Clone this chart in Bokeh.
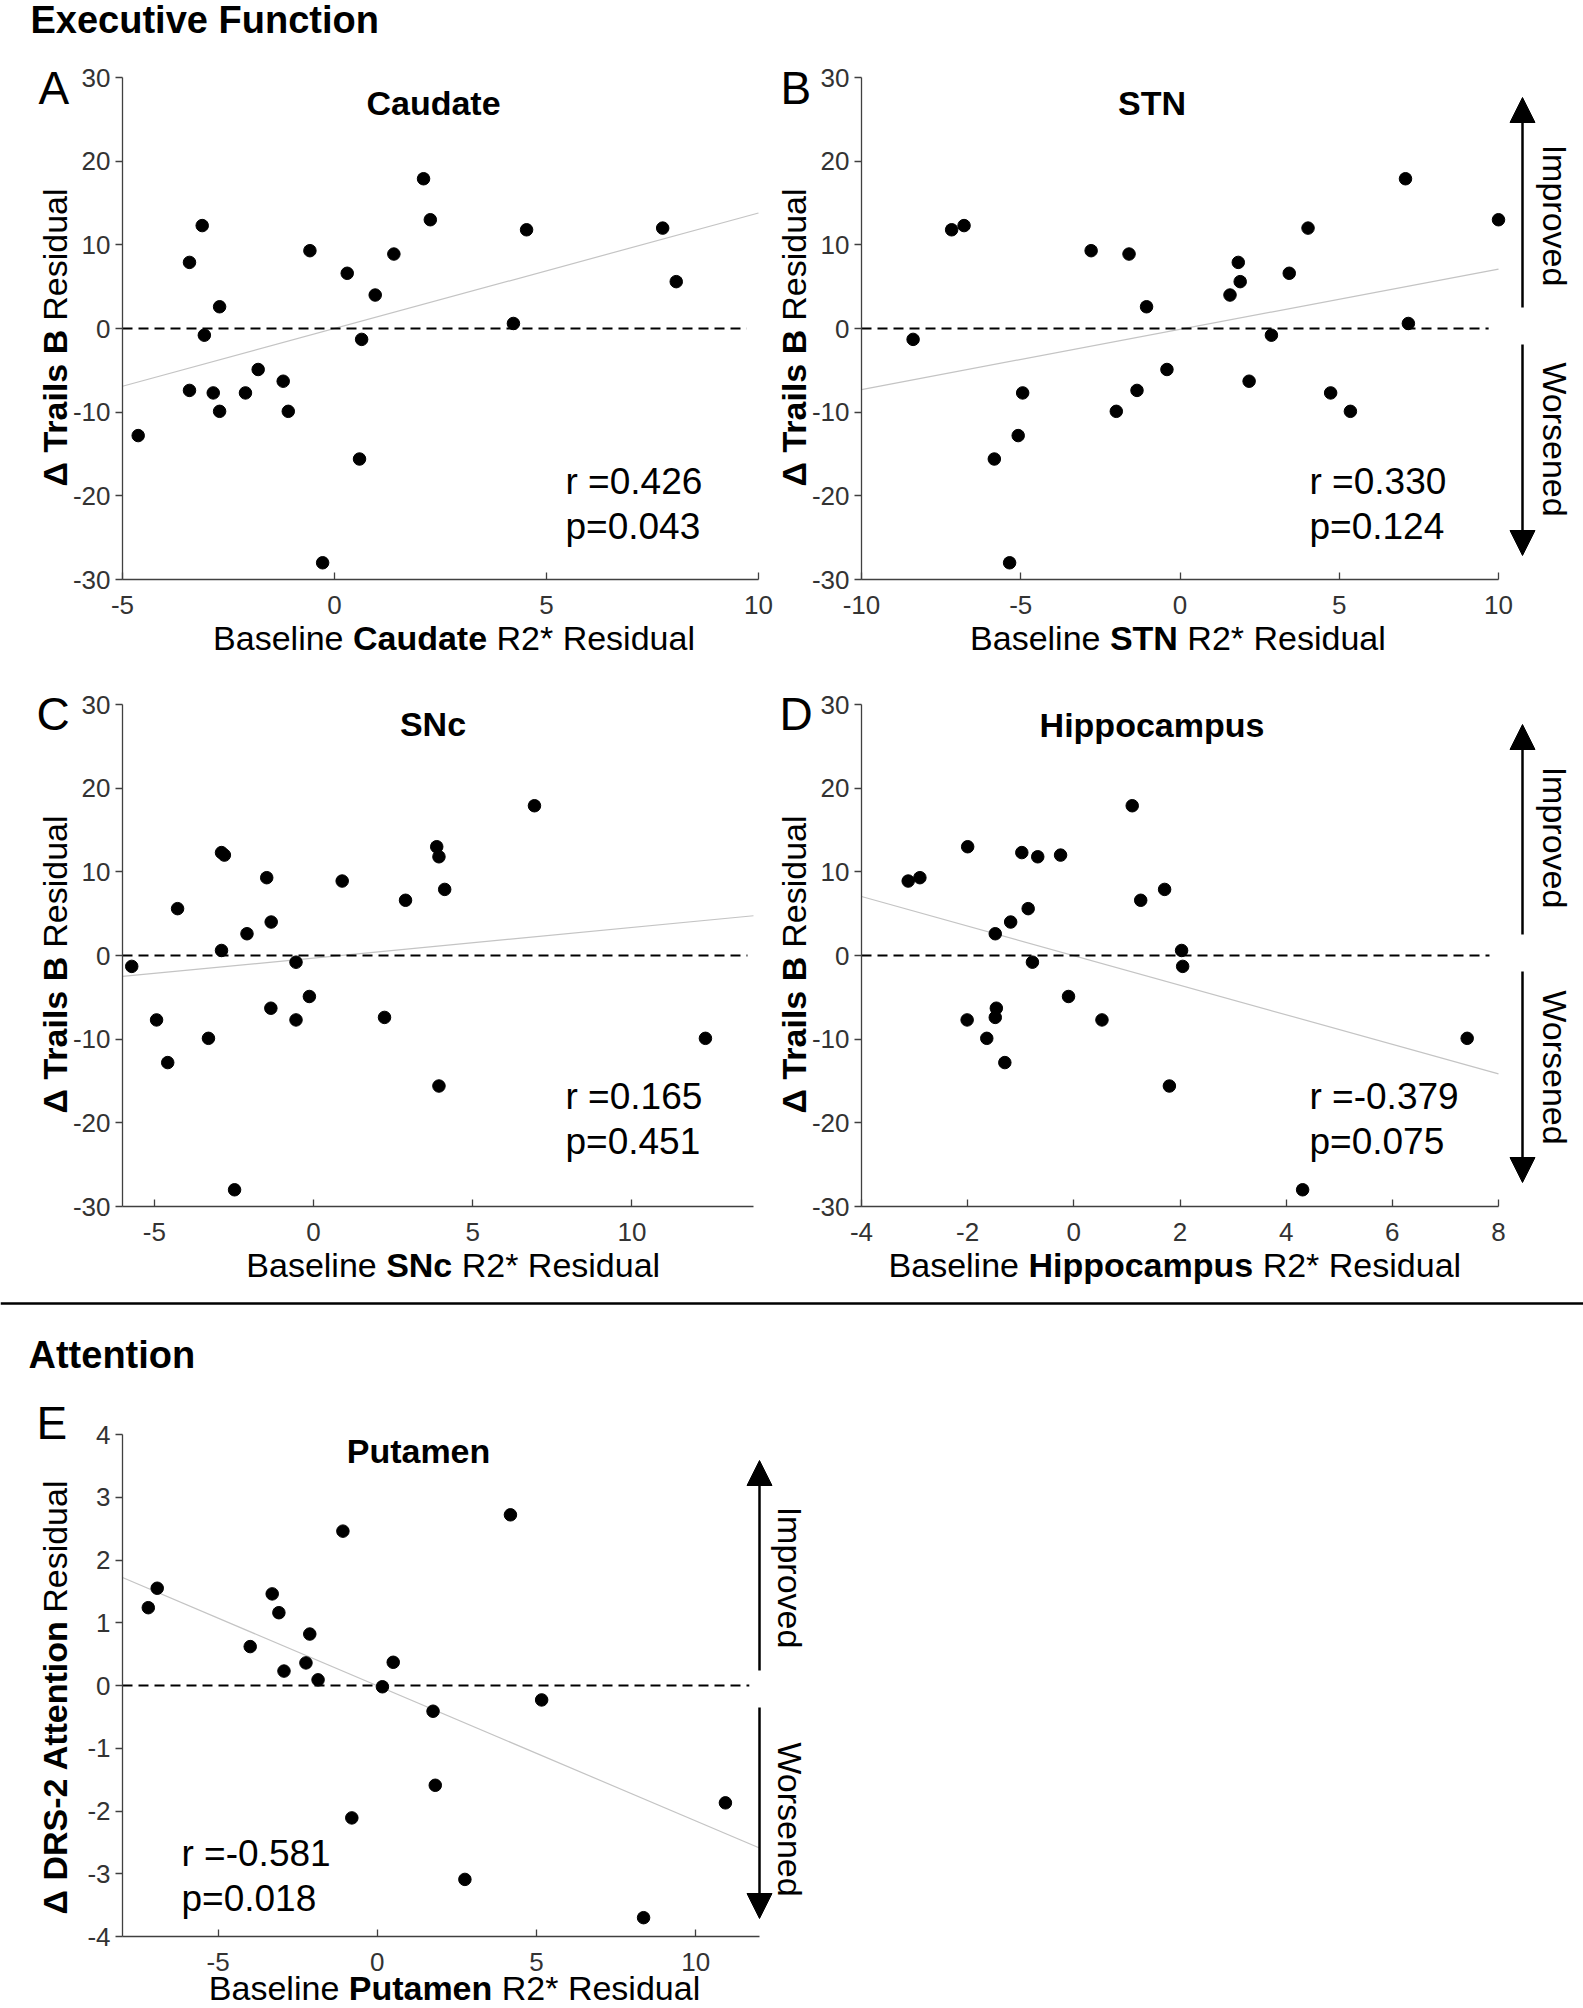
import math
from bokeh.plotting import figure
from bokeh.layouts import column, row
from bokeh.models import Range1d, FixedTicker, Label, Arrow, NormalHead, Span
from bokeh.embed import file_html
from bokeh.resources import INLINE

FONT = "Liberation Sans"

# ---------------- data ----------------
caudate_r2 = [-4.63, -3.42, -3.12, -3.42, -3.07, -2.71, -2.86, -2.71, -1.80, -2.10,
              -1.21, -1.09, -0.58, -0.28, 0.30, 0.64, 0.59, 0.96, 1.40, 2.10,
              2.26, 4.22, 4.53, 7.74, 8.06]
caudate_trails = [-12.8, 7.9, 12.3, -7.4, -0.8, 2.6, -7.7, -9.9, -4.9, -7.7,
                  -6.3, -9.9, 9.3, -28.0, 6.6, -1.3, -15.6, 4.0, 8.9, 17.9,
                  13.0, 0.6, 11.8, 12.0, 5.6]

stn_r2 = [-8.38, -7.17, -6.78, -5.83, -5.35, -5.08, -4.94, -2.79, -2.00, -1.60,
          -1.35, -1.05, -0.41, 1.57, 1.83, 1.89, 2.17, 2.87, 3.43, 4.02,
          4.73, 5.35, 7.08, 7.17, 10.0]
stn_trails = [-1.3, 11.8, 12.3, -15.6, -28.0, -12.8, -7.7, 9.3, -9.9, 8.9,
              -7.4, 2.6, -4.9, 4.0, 7.9, 5.6, -6.3, -0.8, 6.6, 12.0,
              -7.7, -9.9, 17.9, 0.6, 13.0]

snc_r2 = [-5.71, -4.93, -4.58, -4.27, -3.30, -2.89, -2.80, -2.89, -2.48, -2.09,
          -1.47, -1.33, -1.34, -0.55, -0.55, -0.13, 0.90, 2.23, 2.89, 3.87,
          3.94, 4.12, 3.94, 6.94, 12.31]
snc_trails = [-1.3, -7.7, -12.8, 5.6, -9.9, 12.3, 12.0, 0.6, -28.0, 2.6,
              9.3, 4.0, -6.3, -0.8, -7.7, -4.9, 8.9, -7.4, 6.6, 13.0,
              11.8, 7.9, -15.6, 17.9, -9.9]

hippo_r2 = [-3.12, -2.90, -2.00, -2.01, -1.64, -1.48, -1.46, -1.48, -1.30, -1.19,
            -0.98, -0.86, -0.78, -0.68, -0.25, -0.10, 0.53, 1.10, 1.26, 1.71,
            1.80, 2.03, 2.05, 4.31, 7.41]
hippo_trails = [8.9, 9.3, 13.0, -7.7, -9.9, 2.6, -6.3, -7.4, -12.8, 4.0,
                12.3, 5.6, -0.8, 11.8, 12.0, -4.9, -7.7, 17.9, 6.6, 7.9,
                -15.6, 0.6, -1.3, -28.0, -9.9]

putamen_r2 = [-7.19, -6.91, -3.99, -3.30, -3.09, -2.93, -2.24, -2.12, -1.86, -1.08,
              -0.80, 0.16, 0.50, 1.75, 1.82, 2.75, 4.18, 5.16, 8.36, 10.93]
putamen_drs = [1.24, 1.55, 0.62, 1.46, 1.16, 0.23, 0.36, 0.82, 0.09, 2.46,
               -2.11, -0.02, 0.37, -0.41, -1.59, -3.09, 2.72, -0.23, -3.70, -1.87]

# fitted-line end points
caudate_fit_x, caudate_fit_y = [-5.0, 10.0], [-6.9, 13.8]
stn_fit_x, stn_fit_y = [-10.0, 10.0], [-7.3, 7.1]
snc_fit_x, snc_fit_y = [-6.0, 13.82], [-2.5, 4.75]
hippo_fit_x, hippo_fit_y = [-4.0, 8.0], [7.05, -14.15]
putamen_fit_x, putamen_fit_y = [-8.0, 12.0], [1.72, -2.59]

# extent of the dashed zero line
caudate_zero_x = [-5.0, 9.72]
stn_zero_x = [-10.0, 9.69]
snc_zero_x = [-6.0, 13.63]
hippo_zero_x = [-4.0, 7.83]
putamen_zero_x = [-8.0, 11.68]

# axis limits and ticks
caudate_xlim, stn_xlim, snc_xlim, hippo_xlim, putamen_xlim = [-5, 10], [-10, 10], [-6, 13.82], [-4, 8], [-8, 12]
trails_ylim, drs_ylim = [-30, 30], [-4, 4]
caudate_xticks = [-5, 0, 5, 10]
stn_xticks = [-10, -5, 0, 5, 10]
snc_xticks = [-5, 0, 5, 10]
hippo_xticks = [-4, -2, 0, 2, 4, 6, 8]
putamen_xticks = [-5, 0, 5, 10]
trails_yticks = [-30, -20, -10, 0, 10, 20, 30]
drs_yticks = [-4, -3, -2, -1, 0, 1, 2, 3, 4]

stats = {
    "A": ("r =0.426", "p=0.043"),
    "B": ("r =0.330", "p=0.124"),
    "C": ("r =0.165", "p=0.451"),
    "D": ("r =-0.379", "p=0.075"),
    "E": ("r =-0.581", "p=0.018"),
}

# ---------------- text width helper (Arial/Liberation metrics, /1000 em) ----------------
W_REG = {' ': 278, 'B': 667, 'a': 556, 's': 500, 'e': 556, 'l': 222, 'i': 222, 'n': 556,
         'R': 722, '2': 556, '*': 389, 'd': 556, 'u': 556}
W_BOLD = {' ': 278, 'C': 722, 'a': 556, 'u': 611, 'd': 611, 't': 333, 'e': 556, 'S': 667,
          'T': 611, 'N': 722, 'c': 556, 'H': 722, 'i': 278, 'p': 611, 'o': 611, 'm': 889,
          's': 556, 'P': 667, 'n': 611, 'r': 389, 'l': 278, 'B': 722, 'D': 722, 'R': 722,
          '-': 333, '2': 556, 'A': 722, '\u0394': 650}


def text_w(t, bold, size):
    d = W_BOLD if bold else W_REG
    return sum(d.get(c, 556) for c in t) * size / 1000.0


# ---------------- layout helpers (page pixels -> panel data units) ----------------
def px_x(g, px):
    return g["x0"] + (px - g["fl"]) / g["fw"] * (g["x1"] - g["x0"])


def px_y(g, py):
    return g["y1"] - (py - g["ft"]) / g["fh"] * (g["y1"] - g["y0"])


BASE_FIX = 13.0  # rendered baseline sits this far below the anchor


def add_label(p, g, px, py, text, size, bold=False, align="left", angle=0.0, color="black"):
    # shift the anchor "up" in the text's own frame so the baseline lands at (px, py)
    px = px - math.sin(angle) * BASE_FIX
    py = py - math.cos(angle) * BASE_FIX
    p.add_layout(Label(x=px_x(g, px), y=px_y(g, py), text=text, text_font=FONT,
                       text_font_size=f"{size}px",
                       text_font_style="bold" if bold else "normal", text_align=align,
                       text_baseline="alphabetic", angle=angle, text_color=color))


def add_arrow(p, g, px, py0, py1):
    p.add_layout(Arrow(end=NormalHead(size=25, fill_color="black", line_color="black", line_width=1),
                       x_start=px_x(g, px), y_start=px_y(g, py0),
                       x_end=px_x(g, px), y_end=px_y(g, py1),
                       line_width=2.5, line_color="black"))


AX_COL = "#404040"


def make_panel(g, xs, ys, fit_x, fit_y, zero_x, xticks, yticks):
    # the frame covers the whole canvas; axes sit at fixed data locations
    p = figure(width=g["W"], height=g["H"],
               x_range=Range1d(px_x(g, g["ox"]), px_x(g, g["ox"] + g["W"])),
               y_range=Range1d(px_y(g, g["oy"] + g["H"]), px_y(g, g["oy"])),
               toolbar_location=None, output_backend="svg", min_border=0,
               min_border_left=0, min_border_right=0, min_border_top=0, min_border_bottom=0)
    p.outline_line_color = None
    p.grid.visible = False
    for ax in (p.xaxis[0], p.yaxis[0]):
        ax.axis_line_color = AX_COL
        ax.axis_line_width = 1.3
        ax.major_tick_line_color = AX_COL
        ax.major_tick_line_width = 1.3
        ax.minor_tick_line_color = None
        ax.major_label_text_font = FONT
        ax.major_label_text_font_size = "26px"
        ax.major_label_text_color = "#333333"
    p.xaxis.fixed_location = g["y0"]
    p.xaxis.bounds = (g["x0"], g["x1"])
    p.yaxis.fixed_location = g["x0"]
    p.yaxis.bounds = (g["y0"], g["y1"])
    p.xaxis.ticker = FixedTicker(ticks=xticks)
    p.yaxis.ticker = FixedTicker(ticks=yticks)
    p.xaxis.major_label_overrides = {t: str(t) for t in xticks}
    p.yaxis.major_label_overrides = {t: str(t) for t in yticks}
    p.xaxis.major_tick_in = 7
    p.xaxis.major_tick_out = 0
    p.yaxis.major_tick_in = 0
    p.yaxis.major_tick_out = 7
    p.xaxis.major_label_standoff = 16
    p.yaxis.major_label_standoff = 5

    p.line(fit_x, fit_y, line_color="#c4c4c4", line_width=1.2)
    p.line(zero_x, [0, 0], line_color="black", line_width=2, line_dash="10 6")
    p.scatter(xs, ys, size=12.5, fill_color="black", line_color="black")
    return p


def xlabel(p, g, cx, by, region, size=34):
    parts = [("Baseline", False), (region, True), ("R2* Residual", False)]
    sp = text_w(" ", False, size)
    widths = [text_w(t, b, size) for t, b in parts]
    total = sum(widths) + 2 * sp
    x = cx - total / 2
    for (t, b), w in zip(parts, widths):
        add_label(p, g, x, by, t, size, bold=b)
        x += w + sp


def ylabel(p, g, bx, cy, bold_part, size=34):
    sp = text_w(" ", False, size)
    wb = text_w(bold_part, True, size)
    wn = text_w("Residual", False, size)
    total = wb + sp + wn
    y0 = cy + total / 2
    add_label(p, g, bx, y0, bold_part, size, bold=True, angle=math.pi / 2)
    add_label(p, g, bx, y0 - wb - sp, "Residual", size, angle=math.pi / 2)


def stat_text(p, g, x, b1, key):
    r, pv = stats[key]
    add_label(p, g, x, b1, r, 37)
    add_label(p, g, x, b1 + 45, pv, 37)


def side_arrows(p, g, ax_x, ft):
    add_arrow(p, g, ax_x, ft + 230, ft + 20)
    add_arrow(p, g, ax_x, ft + 267, ft + 478)


# ---------------- geometry (page pixels) ----------------
gA = dict(ox=0, oy=0, W=775, H=668, fl=122, ft=77, fw=636, fh=502,
          x0=caudate_xlim[0], x1=caudate_xlim[1], y0=trails_ylim[0], y1=trails_ylim[1])
gB = dict(ox=775, oy=0, W=808, H=668, fl=861, ft=77, fw=637, fh=502,
          x0=stn_xlim[0], x1=stn_xlim[1], y0=trails_ylim[0], y1=trails_ylim[1])
gC = dict(ox=0, oy=668, W=775, H=627, fl=122, ft=704, fw=631, fh=502,
          x0=snc_xlim[0], x1=snc_xlim[1], y0=trails_ylim[0], y1=trails_ylim[1])
gD = dict(ox=775, oy=668, W=808, H=627, fl=861, ft=704, fw=637, fh=502,
          x0=hippo_xlim[0], x1=hippo_xlim[1], y0=trails_ylim[0], y1=trails_ylim[1])
gE = dict(ox=0, oy=1295, W=1583, H=713, fl=122, ft=1434, fw=637, fh=502,
          x0=putamen_xlim[0], x1=putamen_xlim[1], y0=drs_ylim[0], y1=drs_ylim[1])

pA = make_panel(gA, caudate_r2, caudate_trails, caudate_fit_x, caudate_fit_y, caudate_zero_x,
                caudate_xticks, trails_yticks)
pB = make_panel(gB, stn_r2, stn_trails, stn_fit_x, stn_fit_y, stn_zero_x, stn_xticks, trails_yticks)
pC = make_panel(gC, snc_r2, snc_trails, snc_fit_x, snc_fit_y, snc_zero_x, snc_xticks, trails_yticks)
pD = make_panel(gD, hippo_r2, hippo_trails, hippo_fit_x, hippo_fit_y, hippo_zero_x,
                hippo_xticks, trails_yticks)
pE = make_panel(gE, putamen_r2, putamen_drs, putamen_fit_x, putamen_fit_y, putamen_zero_x,
                putamen_xticks, drs_yticks)

# section divider and headers
pE.add_layout(Span(location=px_y(gE, 1303), dimension="width", line_color="black", line_width=2.5))
add_label(pA, gA, 30, 32, "Executive Function", 38, bold=True)
add_label(pE, gE, 28, 1367, "Attention", 38, bold=True)

# panel letters
add_label(pA, gA, 38, 100, "A", 46)
add_label(pB, gB, 780, 100, "B", 46)
add_label(pC, gC, 36, 726, "C", 46)
add_label(pD, gD, 779, 726, "D", 46)
add_label(pE, gE, 36, 1435, "E", 46)

# panel titles
add_label(pA, gA, 433, 115, "Caudate", 34, bold=True, align="center")
add_label(pB, gB, 1151.5, 115, "STN", 34, bold=True, align="center")
add_label(pC, gC, 432.5, 736, "SNc", 34, bold=True, align="center")
add_label(pD, gD, 1151.5, 737, "Hippocampus", 34, bold=True, align="center")
add_label(pE, gE, 418, 1463, "Putamen", 34, bold=True, align="center")

# axis labels
xlabel(pA, gA, 453.5, 650, "Caudate")
xlabel(pB, gB, 1177.4, 650, "STN")
xlabel(pC, gC, 452.7, 1277, "SNc")
xlabel(pD, gD, 1174.3, 1277, "Hippocampus")
xlabel(pE, gE, 454, 2000, "Putamen")

ylabel(pA, gA, 67, 337, "\u0394 Trails B")
ylabel(pB, gB, 806, 337, "\u0394 Trails B")
ylabel(pC, gC, 67, 964, "\u0394 Trails B")
ylabel(pD, gD, 806, 964, "\u0394 Trails B")
ylabel(pE, gE, 67, 1697, "\u0394 DRS-2 Attention")

# statistics
stat_text(pA, gA, 565, 494, "A")
stat_text(pB, gB, 1309, 494, "B")
stat_text(pC, gC, 565, 1109, "C")
stat_text(pD, gD, 1309, 1109, "D")
stat_text(pE, gE, 181, 1866, "E")

# improved / worsened arrows
side_arrows(pB, gB, 1522, 77)
side_arrows(pD, gD, 1522, 704)
side_arrows(pE, gE, 759, 1440)
add_label(pB, gB, 1541, 215, "Improved", 34, align="center", angle=-math.pi / 2)
add_label(pB, gB, 1541, 439, "Worsened", 34, align="center", angle=-math.pi / 2)
add_label(pD, gD, 1541, 837, "Improved", 34, align="center", angle=-math.pi / 2)
add_label(pD, gD, 1541, 1067, "Worsened", 34, align="center", angle=-math.pi / 2)
add_label(pE, gE, 776, 1577, "Improved", 34, align="center", angle=-math.pi / 2)
add_label(pE, gE, 776, 1819, "Worsened", 34, align="center", angle=-math.pi / 2)

layout = column(row(pA, pB), row(pC, pD), pE)
open("out.html", "w").write(file_html(layout, INLINE))
